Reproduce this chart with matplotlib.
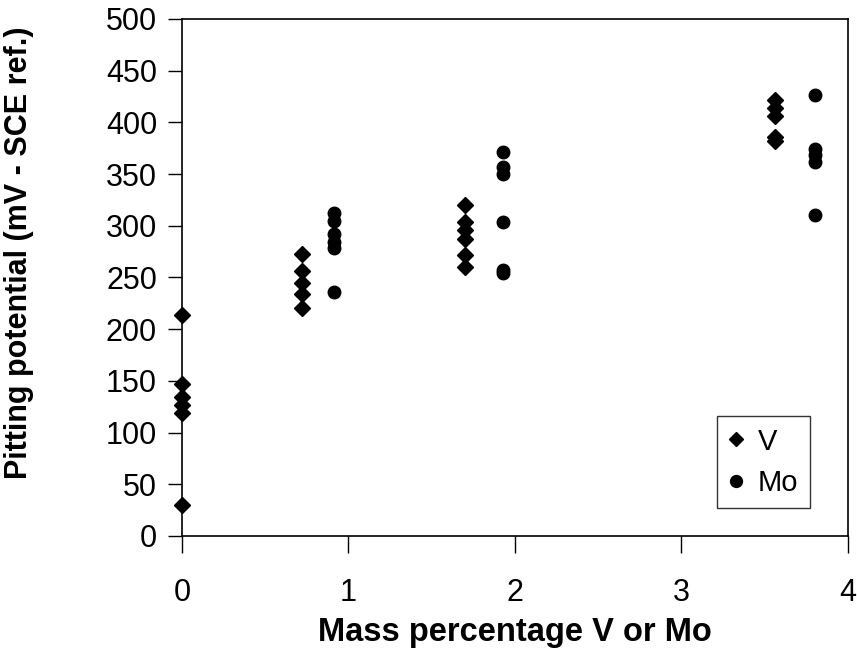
import matplotlib
matplotlib.use("Agg")
import matplotlib.pyplot as plt

plt.rcParams["font.family"] = ["Liberation Sans", "DejaVu Sans"]

# base alloy (0 %) plotted with the V series
v_mass = [0.0] * 6 + [0.72] * 5 + [1.70] * 6 + [3.56] * 5
v_pot = [214, 147, 134, 127, 119, 30,
         273, 256, 245, 234, 220,
         320, 304, 296, 287, 272, 260,
         422, 414, 406, 386, 382]

mo_mass = [0.91] * 6 + [1.93] * 6 + [3.80] * 5
mo_pot = [312, 305, 292, 284, 278, 236,
          371, 357, 350, 304, 257, 254,
          426, 374, 368, 362, 310]

fig = plt.figure(figsize=(8.57, 6.52), dpi=100)
ax = fig.add_axes([0.2124, 0.178, 0.777, 0.793])

ax.plot(v_mass, v_pot, linestyle="none", marker="D", markersize=8,
        color="black", label="V", clip_on=False)
ax.plot(mo_mass, mo_pot, linestyle="none", marker="o", markersize=9,
        color="black", label="Mo", clip_on=False)

ax.set_xlim(0, 4)
ax.set_ylim(0, 500)
ax.set_xticks([0, 1, 2, 3, 4])
ax.set_yticks(range(0, 501, 50))
ax.tick_params(axis="both", labelsize=22, direction="out", width=1)
ax.tick_params(axis="y", length=10, pad=8)
ax.tick_params(axis="x", length=12, pad=18)
for s in ax.spines.values():
    s.set_linewidth(1.2)

ax.set_xlabel("Mass percentage V or Mo", fontsize=23.5, fontweight="bold", labelpad=7)
ax.set_ylabel("Pitting potential (mV - SCE ref.)", fontsize=22, fontweight="bold")
ax.yaxis.set_label_coords(-0.222, 0.547)

leg = ax.legend(loc="lower right", bbox_to_anchor=(0.9645, 0.025), fontsize=21,
                frameon=True, fancybox=False, edgecolor="black", handlelength=0.5,
                handletextpad=0.5, borderpad=0.4, labelspacing=0.45, markerscale=0.95)
leg.get_frame().set_linewidth(1.0)

plt.savefig("out.png", dpi=100)
plt.close()
